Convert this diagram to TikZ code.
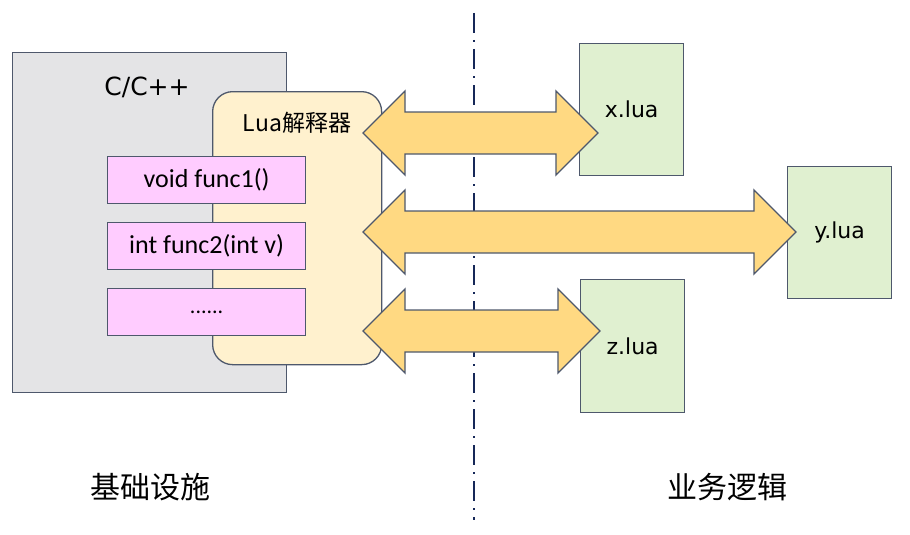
\documentclass[tikz,border=0pt]{standalone}
\usepackage{fontspec}
\setmainfont{Carlito}
\newfontfamily\cjk{Noto Sans CJK SC}
\newfontfamily\dejavu{DejaVu Sans}
\usetikzlibrary{calc}

\definecolor{edgeGray}{RGB}{78,88,108}
\definecolor{hostGray}{RGB}{228,228,230}
\definecolor{luaCream}{RGB}{255,241,206}
\definecolor{funcPink}{RGB}{255,204,255}
\definecolor{scriptGreen}{RGB}{224,240,208}
\definecolor{arrowGold}{RGB}{255,217,130}
\definecolor{lineNavy}{RGB}{22,40,88}

\tikzset{
  box/.style={draw=edgeGray, line width=1.3pt, inner sep=0pt, anchor=north west},
  funcbox/.style={box, fill=funcPink, minimum width=198pt, minimum height=47pt,
    font=\fontsize{26}{30}\selectfont},
  scriptbox/.style={box, fill=scriptGreen, minimum width=104pt, minimum height=132pt,
    font=\dejavu\fontsize{22}{26}\selectfont},
  fatarr/.style={draw=edgeGray, line width=1.3pt, fill=arrowGold, line join=miter},
  sepline/.style={draw=lineNavy, line width=2pt, dash pattern=on 20pt off 7pt on 2pt off 7pt},
  caption/.style={font=\cjk\fontsize{30}{34}\selectfont}
}

% double headed fat arrow between two tips
\newcommand\fatarrow[2]{%
  \filldraw[fatarr] (#1) -- ++(42,-42) -- ++(0,21) -- ($(#2)+(-42,-21)$) -- ++(0,-21)
    -- (#2) -- ++(-42,42) -- ++(0,-21) -- ($(#1)+(42,21)$) -- ++(0,21) -- cycle;}

\begin{document}
\begin{tikzpicture}[x=1pt,y=-1pt]
  \useasboundingbox (0,0) rectangle (910,535);

  % host side
  \node[box, fill=hostGray, minimum width=274pt, minimum height=340pt] (host) at (12,52) {};
  \node[font=\dejavu\fontsize{25}{30}\selectfont] (hostlabel) at (147,87) {C/C++};

  % interpreter
  \node[box, fill=luaCream, rounded corners=20pt, minimum width=169pt, minimum height=273pt] (lua) at (212,91) {};
  \node[font=\cjk\fontsize{23}{27}\selectfont] (lualabel) at (297,123) {Lua解释器};

  % exported functions
  \foreach \name/\top/\txt in {f1/156/void func1(), f2/222/int func2(int v), f3/288/{\fontsize{22}{26}\selectfont ......}}
    {\node[funcbox] (\name) at (107,\top) {\txt};}

  % separator
  \coordinate (septop) at (474,13);
  \coordinate (sepbot) at (474,520);
  \draw[sepline] (septop) -- (sepbot);

  % lua scripts
  \node[scriptbox] (x) at (579,43) {x.lua};
  \node[scriptbox] (y) at (787,166) {y.lua};
  \node[scriptbox, minimum height=133pt] (z) at (580,279) {z.lua};

  % calls between interpreter and scripts
  \foreach \n/\xr/\yy in {x/598/133, y/796/232, z/600/331}
    {\coordinate (\n from) at (363,\yy);
     \coordinate (\n to) at (\xr,\yy);
     \fatarrow{\n from}{\n to}}

  % captions
  \node[caption] (infra) at (150,487) {基础设施};
  \node[caption] (logic) at (727,487) {业务逻辑};
\end{tikzpicture}
\end{document}
